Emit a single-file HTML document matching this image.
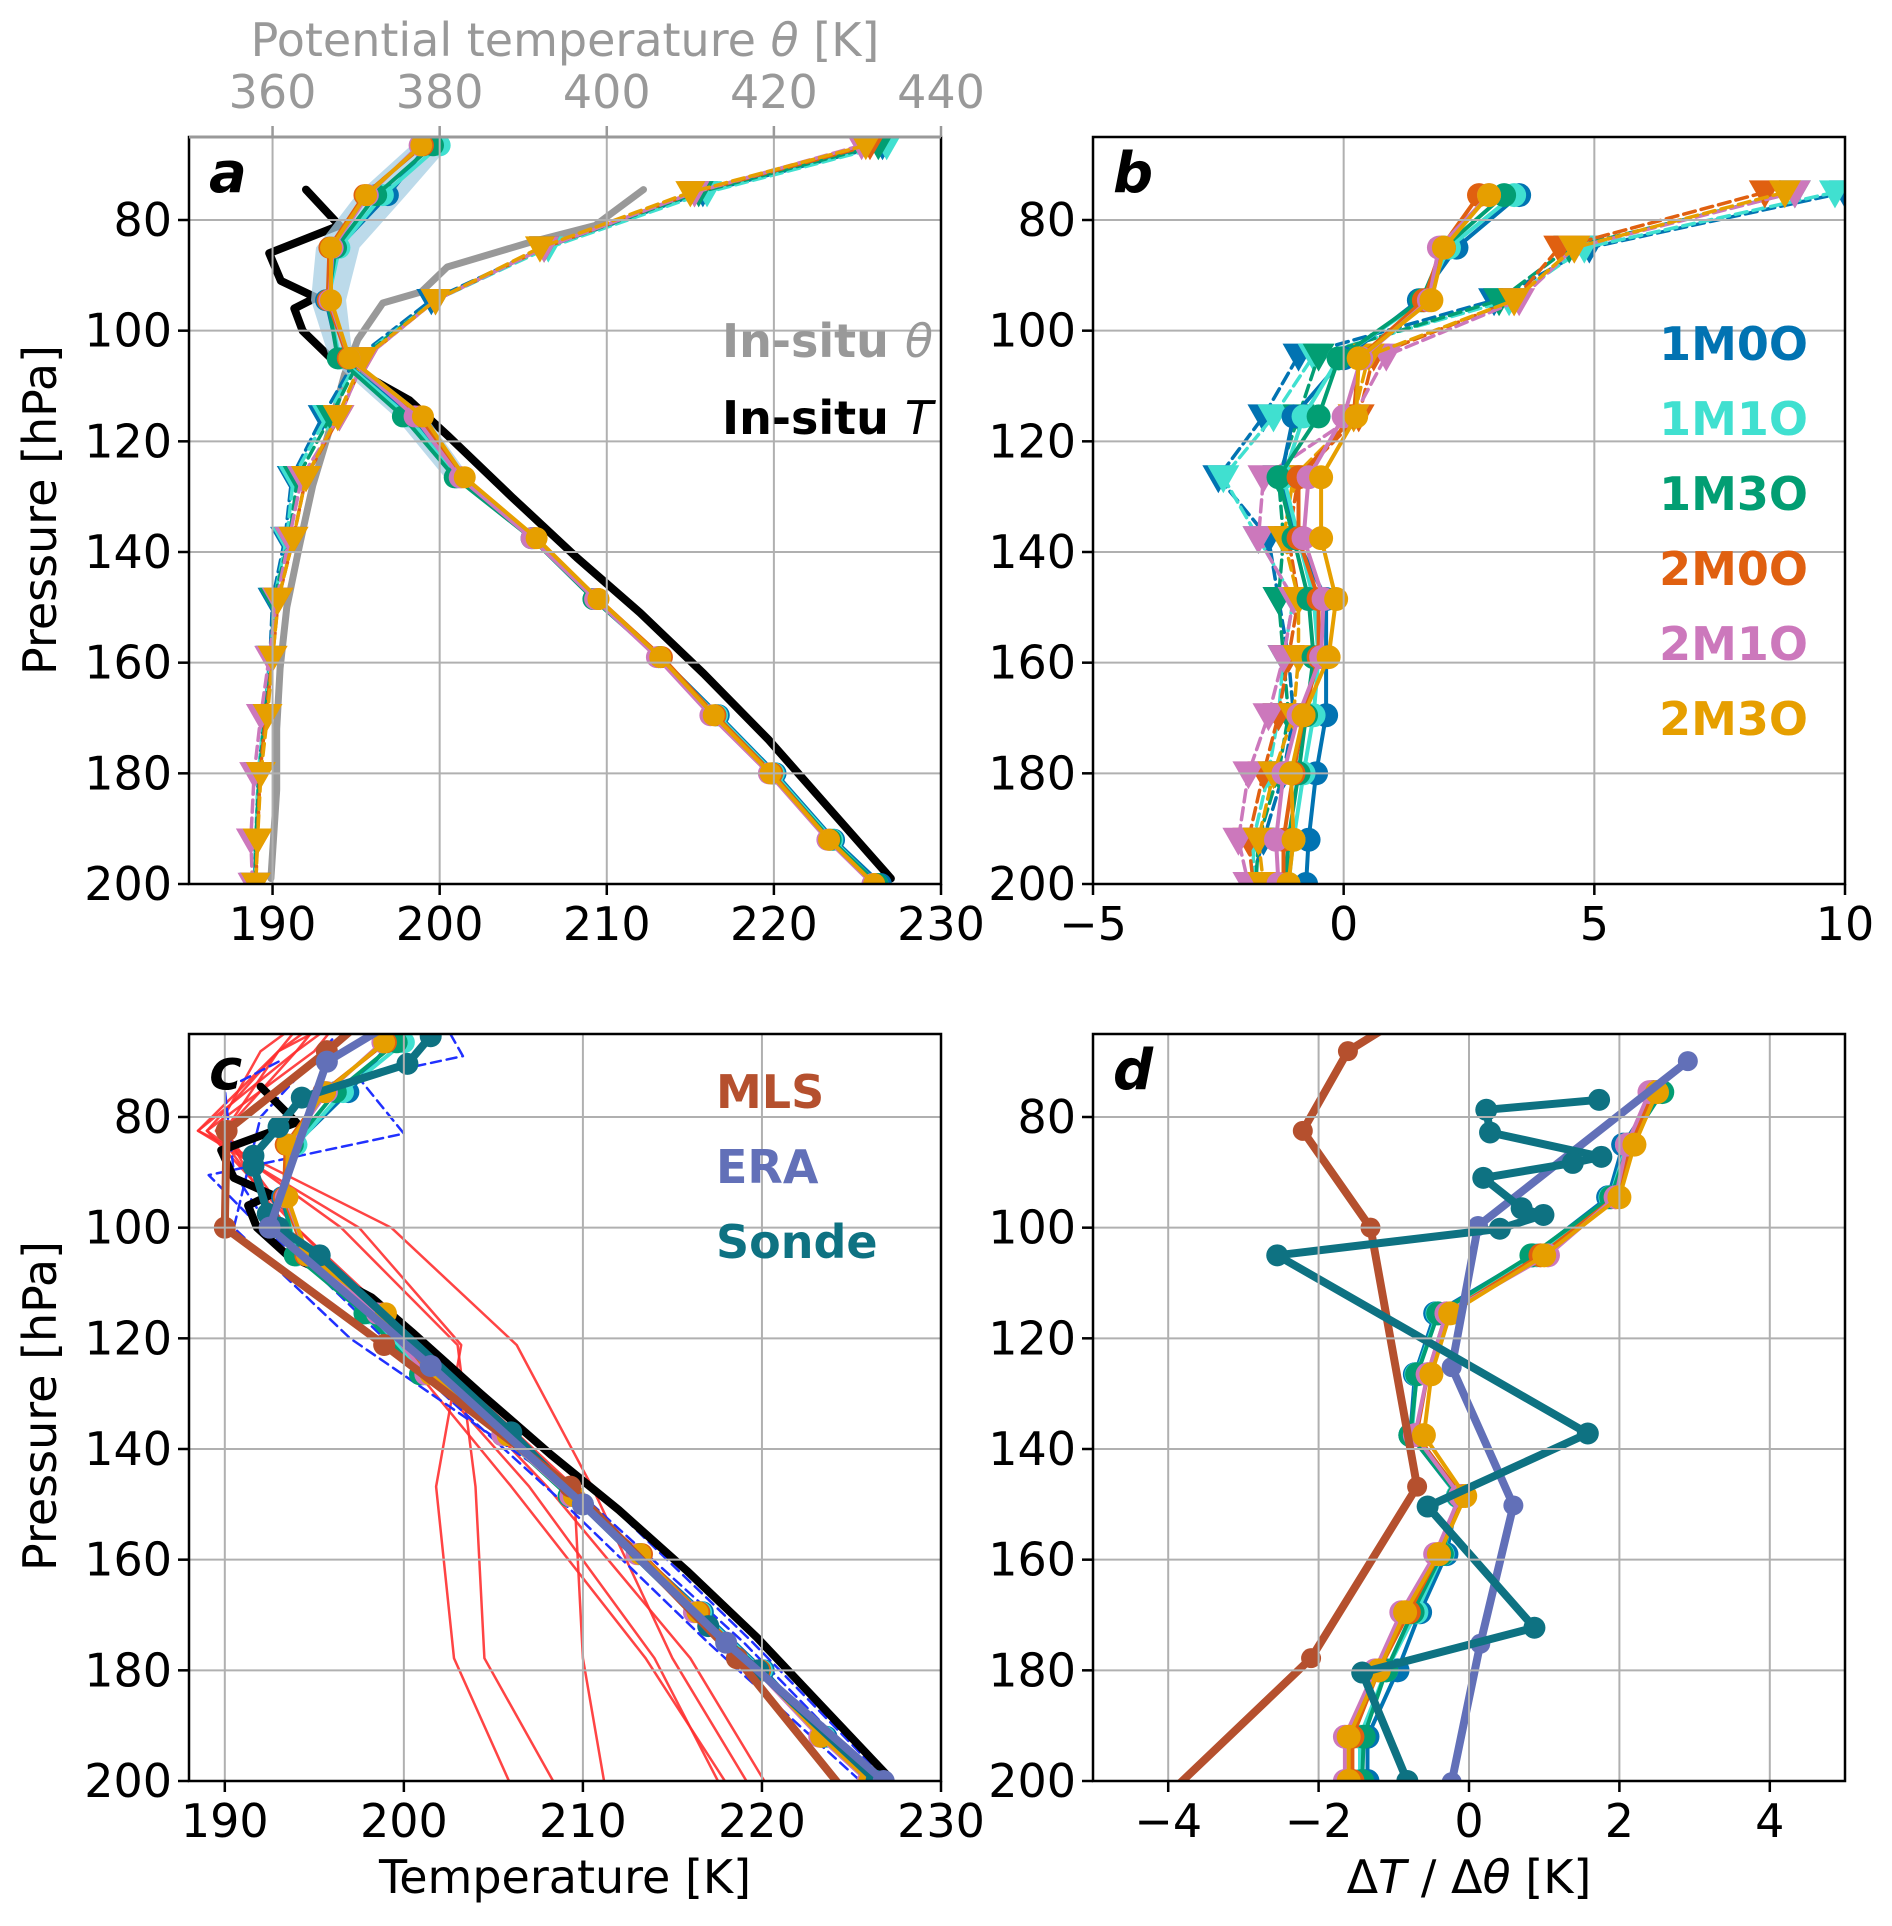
<!DOCTYPE html>
<html><head><meta charset="utf-8"><style>
html,body{margin:0;padding:0;background:#fff;}
svg{display:block;font-family:"DejaVu Sans","Liberation Sans",sans-serif;}
</style></head><body>
<svg id="fig" width="1892" height="1926" viewBox="0 0 1892 1926" xmlns="http://www.w3.org/2000/svg"></svg>
<script>
// ---------- DATA ----------
const obsTP=[74.5,81,86,91,94,96,100,105,107,112.6,119,130,141,151,162,174,187,199];
const obsT=[192.0,194.0,189.8,190.5,192.6,191.3,191.8,193.5,194.9,198.2,200.5,204.3,208.2,212.0,215.8,219.7,223.5,227.0];
const obsThP=[74.5,81,84,88.5,93,95,101.6,108,117,128,139,150,161,172,183,199];
const obsTh=[404.4,398.6,390.9,380.9,377.8,373.2,370.2,368.6,367,364.8,363.2,361.7,360.9,360.5,360.5,359.8];
const models=["1M0O","1M1O","1M3O","2M0O","2M1O","2M3O"];
const modelColors=["#0173b2","#40e0d0","#029e73","#e06010","#cc78bc","#e69f00"];
const levA=[66.5,75.5,85,94.5,105,115.5,126.5,137.5,148.5,159,169.5,180,192,200];
const T_1M0O=[199.3,196.9,193.9,193.2,194,198.3,201,205.6,209.3,213.2,216.7,220.1,223.6,226.4];
const T_1M1O=[200,196.6,194,193.3,194,198.1,201,205.5,209.2,213.1,216.6,220,223.5,226.2];
const T_1M3O=[199.6,196.2,193.8,193.3,193.9,197.8,200.9,205.5,209.2,213.1,216.5,219.9,223.4,226.2];
const T_2M0O=[199,195.5,193.4,193.3,194.5,198.8,201.3,205.7,209.5,213.3,216.5,219.9,223.3,226];
const T_2M1O=[198.8,195.7,193.6,193.4,194.6,198.5,201.2,205.5,209.3,213,216.2,219.7,223.2,225.9];
const T_2M3O=[198.9,195.6,193.5,193.5,194.6,199,201.5,205.8,209.5,213.2,216.4,219.8,223.3,226];
const levTh=[66.5,75,85,94.5,105,115.5,126.5,137.5,148.5,159,169.5,180,192,200];
const Th_1M0O=[433,411.5,392.5,379,370,366,362.3,361.5,360,359.7,359,358.3,358,357.8];
const Th_1M1O=[433.5,412,393,379.5,370.3,366.5,362.5,361.7,360.2,359.8,359,358.3,358,357.9];
const Th_1M3O=[432.5,411,392.5,379.5,370.5,367,363,362,360.2,359.8,359.1,358.4,358,357.9];
const Th_2M0O=[431.5,410.5,392.5,379.5,371,368,364,362.5,360.7,360,359.2,358.5,358.2,358];
const Th_2M1O=[430.5,410.5,392.5,379.5,371,368,363.5,362,360.5,359.6,358.6,357.8,357.4,357.6];
const Th_2M3O=[431,410,392,379.5,370.8,367.8,364,362.5,360.7,360,359.4,358.6,358.2,358];
const bandP=[66.5,75.5,85,94.5,105,115.5,126.5];
const bandLo=[198.3,195.0,192.6,192.3,193.4,197.3,200.3];
const bandHi=[200.6,198.0,195.2,194.4,194.8,199.2,201.8];
const levB=[75.5,85,94.5,105,115.5,126.5,137.5,148.5,159,169.5,180,192,200];
const dT_1M0O=[3.5,2.25,1.5,0,-1.0,-1.25,-0.95,-0.35,-0.35,-0.35,-0.55,-0.7,-0.75];
const dT_1M1O=[3.4,2.1,1.6,-0.1,-0.8,-1.2,-0.9,-0.6,-0.5,-0.6,-0.8,-1.0,-1.1];
const dT_1M3O=[3.2,2.0,1.55,-0.1,-0.5,-1.3,-1.0,-0.7,-0.6,-0.75,-0.9,-1.1,-1.15];
const dT_2M0O=[2.7,1.95,1.6,0.3,0.2,-0.9,-0.9,-0.5,-0.5,-0.8,-1.0,-1.2,-1.2];
const dT_2M1O=[2.9,1.9,1.7,0.35,0.0,-0.7,-0.8,-0.4,-0.45,-0.9,-1.2,-1.35,-1.3];
const dT_2M3O=[2.9,2.0,1.75,0.3,0.25,-0.45,-0.45,-0.15,-0.3,-0.8,-1.05,-1.0,-1.1];
const levBth=[75,85,94.5,104.5,115.5,126.5,137.5,148.5,159,169.5,180,192,200];
const dTh_1M0O=[10.0,4.9,3.0,-0.9,-1.6,-2.5,-1.5,-1.3,-1.1,-1.0,-1.2,-1.6,-1.85];
const dTh_1M1O=[9.8,4.8,3.3,-0.6,-1.4,-2.4,-1.7,-1.0,-1.2,-1.3,-1.5,-1.8,-1.8];
const dTh_1M3O=[9.0,4.5,3.1,-0.5,-0.9,-1.3,-1.2,-1.3,-1.2,-1.1,-1.3,-1.7,-1.75];
const dTh_2M0O=[8.4,4.3,3.4,0.6,0.3,-0.9,-1.1,-0.9,-1.1,-1.3,-1.6,-1.9,-1.8];
const dTh_2M1O=[9.0,4.6,3.5,0.85,0.2,-1.6,-1.7,-1.0,-1.2,-1.5,-1.9,-2.1,-1.9];
const dTh_2M3O=[8.8,4.6,3.4,0.5,0.2,-1.0,-1.2,-0.9,-0.9,-1.0,-1.4,-1.7,-1.6];
const mlsP=[56.2,68.1,82.5,100,121.2,146.8,177.8,215.4];
const mlsT=[200,195.7,190.1,190,198.9,209.3,218.6,228];
const eraP=[50,70,100,125,150,175,200];
const eraT=[206,195.7,192.5,201.5,210,218,226.8];
const sondeP=[65.4,70.4,76.5,81.8,87,88.8,97.5,100,105,137,150,172,180,200];
const sondeT=[201.5,200.2,194.3,193,191.6,191.6,192.4,193,195.3,206,210,217,219.8,226.4];
const redP=[56.2,68.1,82.5,100,121.2,146.8,177.8,215.4];
const red1=[200,193,188.5,199.3,206.3,210.5,215,222];
const red2=[199,194,188.5,197.5,203.2,201.8,202.8,208];
const red3=[198,193,189,196.5,203,204,204.5,211];
const red4=[198,195,189,194,201,209.5,210,212];
const red5=[197,192,189.5,193.5,200,207,214,220];
const red6=[196,193,190,193,199.5,206,213.5,221];
const red7=[197,194,190,194,200.5,208,216,223];
const bd1P=[65,69,73,83,90.5,100,125,150,175,200];
const bd1T=[202.6,203.3,197.5,200,189.1,192,202.5,211.5,219.5,227];
const bd2P=[70,75,90,100,125,150,175,200];
const bd2T=[193,190,190.5,192.5,200.5,209,217,225.5];
const bd3P=[66,80,100,120,150,175,200];
const bd3T=[196,192,190.5,197,210.5,219,226.5];
const levD=[75.5,85,94.5,105,115.5,126.5,137.5,148.5,159,169.5,180,192,200];
const dd_1M0O=[2.5,2.05,1.85,0.85,-0.45,-0.72,-0.78,-0.15,-0.3,-0.65,-0.95,-1.35,-1.35];
const dd_1M1O=[2.45,2.1,1.88,0.9,-0.42,-0.7,-0.76,-0.15,-0.35,-0.7,-1.1,-1.45,-1.45];
const dd_1M3O=[2.57,2.12,1.89,0.83,-0.41,-0.69,-0.78,-0.14,-0.36,-0.75,-1.1,-1.4,-1.42];
const dd_2M0O=[2.45,2.15,1.95,0.95,-0.3,-0.55,-0.7,-0.1,-0.4,-0.8,-1.2,-1.55,-1.55];
const dd_2M1O=[2.4,2.1,1.95,1.05,-0.3,-0.55,-0.72,-0.12,-0.45,-0.9,-1.25,-1.65,-1.65];
const dd_2M3O=[2.5,2.2,2.0,1.0,-0.25,-0.5,-0.6,-0.05,-0.4,-0.85,-1.2,-1.6,-1.6];
const mlsDP=[56.2,68.1,82.5,100,146.8,177.8,215.4];
const mlsD=[-0.2,-1.61,-2.21,-1.31,-0.69,-2.10,-5.0];
const eraDP=[69.9,99.7,125.2,150.2,175.2,200.2];
const eraD=[2.91,0.12,-0.23,0.59,0.15,-0.23];
const sondeDP=[76.9,78.7,82.8,87.2,88.3,91,96.5,97.7,100.2,105,137.2,150.4,172.3,180.4,200];
const sondeD=[1.73,0.23,0.28,1.76,1.38,0.19,0.70,0.99,0.41,-2.55,1.58,-0.55,0.87,-1.42,-0.82];
const pTicks=[80,100,120,140,160,180,200];
const ticksA=[190,200,210,220,230];
const ticksTh=[360,380,400,420,440];
const ticksB=[-5,0,5,10];
const ticksC=[190,200,210,220,230];
const ticksD=[-4,-2,0,2,4];

// ---------- HELPERS ----------
const NS="http://www.w3.org/2000/svg";
const svg=document.getElementById('fig');
function mk(tag,attrs,parent){const e=document.createElementNS(NS,tag);for(const k in attrs)e.setAttribute(k,attrs[k]);(parent||svg).appendChild(e);return e;}
function lin(d0,d1,r0,r1){return v=>r0+(v-d0)/(d1-d0)*(r1-r0);}
const P={
 a:{x0:189,x1:941,y0:137,y1:884,xd:[185,230]},
 b:{x0:1093,x1:1845,y0:137,y1:884,xd:[-5,10]},
 c:{x0:189,x1:941,y0:1034,y1:1781,xd:[188,230]},
 d:{x0:1093,x1:1845,y0:1034,y1:1781,xd:[-5,5]}
};
for(const k in P){const p=P[k];p.x=lin(p.xd[0],p.xd[1],p.x0,p.x1);p.y=lin(65,200,p.y0,p.y1);
 const cp=mk('clipPath',{id:'clip'+k});mk('rect',{x:p.x0,y:p.y0,width:p.x1-p.x0,height:p.y1-p.y0},cp);
 p.g=mk('g',{'clip-path':'url(#clip'+k+')'});}
P.a.th=lin(350,440,189,941);

function drawLine(p,xs,ps,xf,color,w,name,opts){
 opts=opts||{};
 const d=xs.map((v,i)=>(i?'L':'M')+xf(v).toFixed(1)+','+p.y(ps[i]).toFixed(1)).join('');
 const e=mk('path',{d:d,fill:'none',stroke:color,'stroke-width':w,'stroke-linejoin':'round','stroke-linecap':'round'},p.g);
 if(opts.dash)e.setAttribute('stroke-dasharray',opts.dash);
 if(opts.op)e.setAttribute('stroke-opacity',opts.op);
 
 
 if(opts.marker){
  xs.forEach((v,i)=>{const cx=xf(v),cy=p.y(ps[i]);let m;
   if(opts.marker==='o'){m=mk('circle',{cx:cx,cy:cy,r:opts.ms||9,fill:color},p.g);}
   else{const s=opts.ms||13;m=mk('path',{d:`M${cx-s},${cy-s*0.75}L${cx+s},${cy-s*0.75}L${cx},${cy+s}Z`,fill:color},p.g);}
   
   
  });}
 return e;
}
function text(x,y,s,attrs,name){const t=mk('text',Object.assign({x:x,y:y,'font-size':46,fill:'#000'},attrs||{}));t.textContent=s;
 
 return t;}

function axes(k,xt){
 const p=P[k];
 xt.forEach(v=>{const g=mk('line',{x1:p.x(v),x2:p.x(v),y1:p.y0,y2:p.y1,stroke:'#b0b0b0','stroke-width':2});
  
  });
 pTicks.forEach(v=>{const g=mk('line',{x1:p.x0,x2:p.x1,y1:p.y(v),y2:p.y(v),stroke:'#b0b0b0','stroke-width':2});
  
  });
}
function frame(k,xt,letter,topGray){
 const p=P[k];
 const fr=mk('rect',{x:p.x0,y:p.y0,width:p.x1-p.x0,height:p.y1-p.y0,fill:'none',stroke:'#000','stroke-width':2.5});
 
 
 if(topGray){const l=mk('line',{x1:p.x0,x2:p.x1,y1:p.y0,y2:p.y0,stroke:'#999','stroke-width':3});
  
  }
 xt.forEach(v=>{mk('line',{x1:p.x(v),x2:p.x(v),y1:p.y1,y2:p.y1+11,stroke:'#000','stroke-width':2.5});
  text(p.x(v),p.y1+56,(v<0?'\u2212'+(-v):String(v)),{'text-anchor':'middle'},'x-tick-label');});
 pTicks.forEach(v=>{mk('line',{x1:p.x0-11,x2:p.x0,y1:p.y(v),y2:p.y(v),stroke:'#000','stroke-width':2.5});
  text(p.x0-17,p.y(v)+16,String(v),{'text-anchor':'end'},'y-tick-label');});
 text(p.x0+20,p.y0+55,letter,{'font-size':56,'font-weight':'bold','font-style':'italic'},'panel-label-'+letter);
}

// ---------- PANEL A ----------
axes('a',ticksA);
drawLine(P.a,obsTh,obsThP,P.a.th,'#999999',7,'insitu-theta-line');
drawLine(P.a,obsT,obsTP,P.a.x,'#000',8,'insitu-T-line');
{const p=P.a;const pts=bandHi.map((v,i)=>p.x(v)+','+p.y(bandP[i])).concat(bandLo.map((v,i)=>p.x(v)+','+p.y(bandP[i])).reverse());
 const b=mk('polygon',{points:pts.join(' '),fill:'#a6cee3','fill-opacity':0.75},p.g);
 
 }
const ThA=[Th_1M0O,Th_1M1O,Th_1M3O,Th_2M0O,Th_2M1O,Th_2M3O];
const TA=[T_1M0O,T_1M1O,T_1M3O,T_2M0O,T_2M1O,T_2M3O];
ThA.forEach((a,i)=>drawLine(P.a,a,levTh,P.a.th,modelColors[i],3.5,'theta-'+models[i],{dash:'12,6',marker:'v',ms:15}));
TA.forEach((a,i)=>drawLine(P.a,a,levA,P.a.x,modelColors[i],4,'temp-'+models[i],{marker:'o',ms:11}));
frame('a',ticksA,'a',true);
ticksTh.forEach(v=>{const x=P.a.th(v);mk('line',{x1:x,x2:x,y1:P.a.y0-11,y2:P.a.y0,stroke:'#999','stroke-width':2.5});
 text(x,108,String(v),{'text-anchor':'middle',fill:'#999'},'top-tick-label');});
text(565,56,'',{'text-anchor':'middle',fill:'#999'},'top-axis-title').innerHTML='Potential temperature <tspan font-style="italic">\u03B8</tspan> [K]';
text(933,357,'',{'text-anchor':'end',fill:'#999','font-weight':'bold'},'legend-insitu-theta').innerHTML='In-situ <tspan font-style="italic" font-weight="normal">\u03B8</tspan>';
text(933,434,'',{'text-anchor':'end','font-weight':'bold'},'legend-insitu-T').innerHTML='In-situ <tspan font-style="italic" font-weight="normal">T</tspan>';
text(0,0,'Pressure [hPa]',{'text-anchor':'middle',transform:'translate(56,510) rotate(-90)'},'y-axis-title');

// ---------- PANEL B ----------
axes('b',ticksB);
const dThB=[dTh_1M0O,dTh_1M1O,dTh_1M3O,dTh_2M0O,dTh_2M1O,dTh_2M3O];
const dTB=[dT_1M0O,dT_1M1O,dT_1M3O,dT_2M0O,dT_2M1O,dT_2M3O];
dThB.forEach((a,i)=>drawLine(P.b,a,levBth,P.b.x,modelColors[i],3.5,'dtheta-'+models[i],{dash:'12,6',marker:'v',ms:16}));
dTB.forEach((a,i)=>drawLine(P.b,a,levB,P.b.x,modelColors[i],4,'dT-'+models[i],{marker:'o',ms:12}));
frame('b',ticksB,'b');
models.forEach((m,i)=>text(1808,360+i*75,m,{'text-anchor':'end',fill:modelColors[i],'font-weight':'bold'},'legend-'+m));

// ---------- PANEL C ----------
axes('c',ticksC);
[red1,red2,red3,red4,red5,red6,red7].forEach((a,i)=>drawLine(P.c,a,redP,P.c.x,'#ff3030',2.5,'mls-profile-'+(i+1),{op:0.9}));
drawLine(P.c,bd1T,bd1P,P.c.x,'#2030ff',2.5,'era-profile-1',{dash:'10,6'});
drawLine(P.c,bd2T,bd2P,P.c.x,'#2030ff',2.5,'era-profile-2',{dash:'10,6'});
drawLine(P.c,bd3T,bd3P,P.c.x,'#2030ff',2.5,'era-profile-3',{dash:'10,6'});
drawLine(P.c,obsT,obsTP,P.c.x,'#000',8,'insitu-T-line-c');
TA.forEach((a,i)=>drawLine(P.c,a,levA,P.c.x,modelColors[i],4,'temp-c-'+models[i],{marker:'o',ms:11}));
drawLine(P.c,sondeT,sondeP,P.c.x,'#0e7282',8,'sonde-line',{marker:'o',ms:11});
drawLine(P.c,mlsT,mlsP,P.c.x,'#b5502e',8,'mls-line',{marker:'o',ms:11});
drawLine(P.c,eraT,eraP,P.c.x,'#6270b8',8,'era-line',{marker:'o',ms:11});
frame('c',ticksC,'c');
text(716,1108,'MLS',{fill:'#b5502e','font-weight':'bold'},'legend-mls');
text(716,1183,'ERA',{fill:'#6270b8','font-weight':'bold'},'legend-era');
text(716,1258,'Sonde',{fill:'#0e7282','font-weight':'bold'},'legend-sonde');
text(0,0,'Pressure [hPa]',{'text-anchor':'middle',transform:'translate(56,1406) rotate(-90)'},'y-axis-title-c');
text(565,1893,'Temperature [K]',{'text-anchor':'middle'},'x-axis-title-c');

// ---------- PANEL D ----------
axes('d',ticksD);
const DD=[dd_1M0O,dd_1M1O,dd_1M3O,dd_2M0O,dd_2M1O,dd_2M3O];
DD.forEach((a,i)=>drawLine(P.d,a,levD,P.d.x,modelColors[i],4,'dd-'+models[i],{marker:'o',ms:12}));
drawLine(P.d,mlsD,mlsDP,P.d.x,'#b5502e',8,'mls-diff-line',{marker:'o',ms:10});
drawLine(P.d,eraD,eraDP,P.d.x,'#6270b8',8,'era-diff-line',{marker:'o',ms:10});
drawLine(P.d,sondeD,sondeDP,P.d.x,'#0e7282',8,'sonde-diff-line',{marker:'o',ms:11});
frame('d',ticksD,'d');
{const t=text(1469,1893,'',{'text-anchor':'middle'},'x-axis-title-d');t.innerHTML='\u0394<tspan font-style="italic">T</tspan> / \u0394<tspan font-style="italic">\u03B8</tspan> [K]';}
</script>
</body></html>
